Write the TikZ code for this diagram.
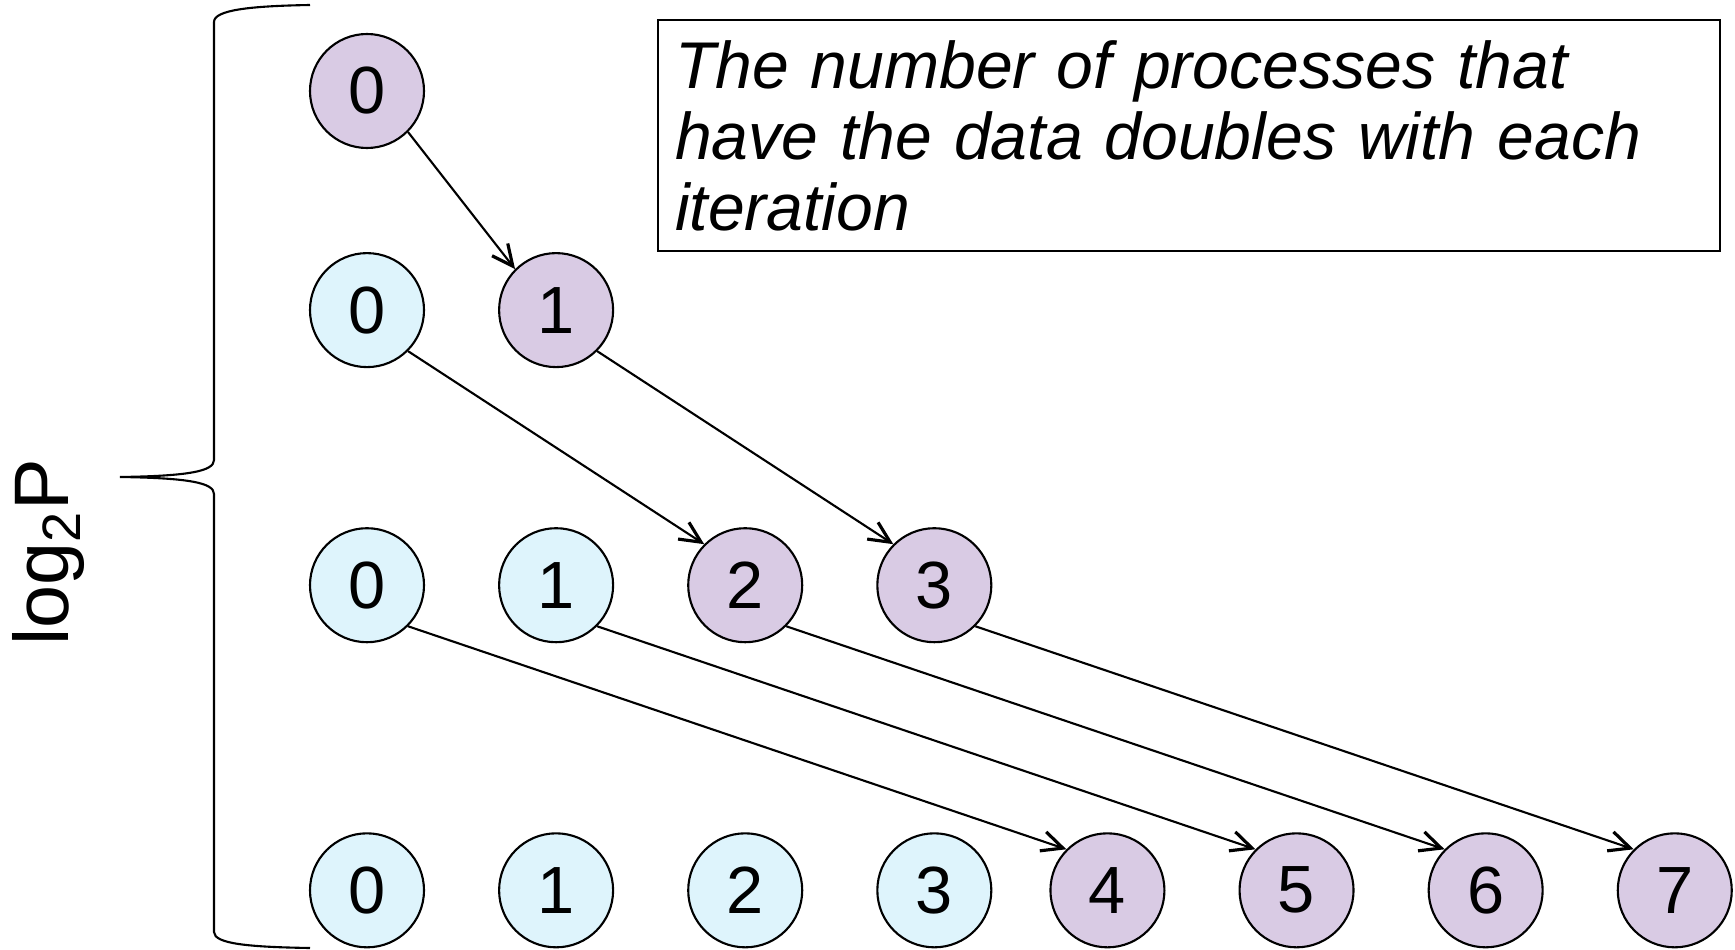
\documentclass[tikz,border=0pt]{standalone}
\usepackage{fontspec}
\setmainfont{Liberation Sans}
\usetikzlibrary{positioning, arrows.meta}

\definecolor{sentfill}{RGB}{217,203,228}
\definecolor{heldfill}{RGB}{222,244,252}

\begin{document}
\begin{tikzpicture}[
    line width=0.6pt,
    proc/.style={circle, draw, minimum size=1.14cm, inner sep=0pt, font=\fontsize{19}{20}\selectfont},
    held/.style={proc, fill=heldfill},
    sent/.style={proc, fill=sentfill},
    note/.style={rectangle, draw, text width=10.28cm, inner xsep=1.7mm, minimum height=2.31cm, align=left, font=\fontsize{18.8}{20.2}\selectfont\itshape},
    send/.style={-{Straight Barb[length=2.1mm, width=2mm, line width=0.9pt]}}
]
\useasboundingbox (0,0) rectangle (17.35,-9.5);

% Step 0
\node[sent] (s0p0) at (3.67,-0.91) {0};

% Step 1
\node[held, below=1.03cm of s0p0] (s1p0) {0};
\node[sent, right=0.73cm of s1p0] (s1p1) {1};

% Step 2
\node[held, below=1.59cm of s1p0] (s2p0) {0};
\node[held, right=0.73cm of s2p0] (s2p1) {1};
\node[sent, right=0.73cm of s2p1] (s2p2) {2};
\node[sent, right=0.73cm of s2p2] (s2p3) {3};

% Step 3
\node[held, below=1.89cm of s2p0] (s3p0) {0};
\node[held, right=0.73cm of s3p0] (s3p1) {1};
\node[held, right=0.73cm of s3p1] (s3p2) {2};
\node[held, right=0.73cm of s3p2] (s3p3) {3};
\node[sent, right=0.57cm of s3p3] (s3p4) {4};
\node[sent, right=0.73cm of s3p4] (s3p5) {5};
\node[sent, right=0.73cm of s3p5] (s3p6) {6};
\node[sent, right=0.73cm of s3p6] (s3p7) {7};

% Sends
\draw[send] (s0p0.south east) -- (s1p1.north west);
\draw[send] (s1p0.south east) -- (s2p2.north west);
\draw[send] (s1p1.south east) -- (s2p3.north west);
\draw[send] (s2p0.south east) -- (s3p4.north west);
\draw[send] (s2p1.south east) -- (s3p5.north west);
\draw[send] (s2p2.south east) -- (s3p6.north west);
\draw[send] (s2p3.south east) -- (s3p7.north west);

% Note
\node[note, anchor=north west] (note) at (6.57,-0.19) {The number of processes that\\have the data doubles with each\\iteration};

% Brace and steps label
\coordinate (brace_top) at (3.10,-0.05);
\coordinate (brace_tip) at (1.20,-4.77);
\coordinate (brace_bot) at (3.10,-9.48);
\draw (brace_top) .. controls (2.50,-0.06) and (2.14,-0.10) .. (2.14,-0.22)
  -- (2.14,-4.60) .. controls (2.14,-4.71) and (1.90,-4.76) .. (brace_tip)
  .. controls (1.90,-4.78) and (2.14,-4.83) .. (2.14,-4.94)
  -- (2.14,-9.32) .. controls (2.14,-9.44) and (2.50,-9.47) .. (brace_bot);
\node[rotate=90, anchor=base west, inner sep=0pt, font=\fontsize{22}{24}\selectfont] (logp) at (0.68,-6.47) {log\textsubscript{2}P};

\end{tikzpicture}
\end{document}
